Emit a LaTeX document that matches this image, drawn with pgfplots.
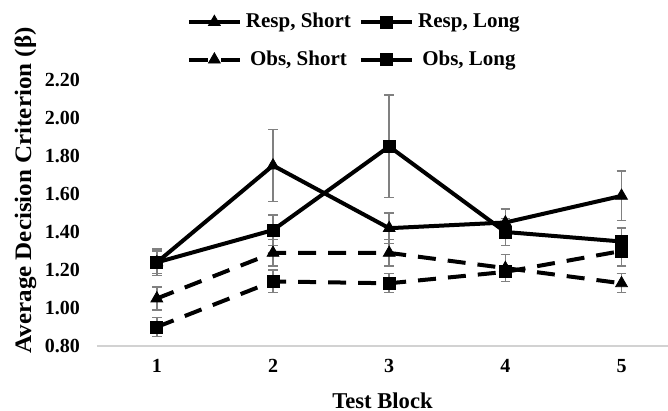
\documentclass[border=0pt]{standalone}
\usepackage{fontspec}
\setmainfont{Liberation Serif}
\newfontfamily\ylabfont[FakeStretch=1.06]{Liberation Serif}
\usepackage{pgfplots}
\pgfplotsset{compat=1.18}
\begin{document}
\begin{tikzpicture}
  \begin{axis}[
      scale only axis, width=285.5pt, height=133pt,
      xmin=0.485, xmax=5.4, ymin=0.8, ymax=2.2,
      xtick={1,2,3,4,5},
      ytick={0.8,1.0,1.2,1.4,1.6,1.8,2.0,2.2},
      axis lines*=left,
      y axis line style={draw=none},
      x axis line style={draw=gray!35, line width=0.8pt},
      tick style={draw=none},
      /pgf/number format/assume math mode=true,
      tick label style={font=\fontsize{10}{12}\selectfont\bfseries},
      yticklabel style={xshift=-5pt,
        /pgf/number format/.cd, fixed, fixed zerofill, precision=2},
      xticklabel style={yshift=-3pt},
      xlabel={Test Block},
      xlabel style={font=\fontsize{11.3}{13}\selectfont\bfseries,
                    at={(axis description cs:0.5,-0.205)}, anchor=center},
      ylabel={Average Decision Criterion (β)},
      ylabel style={font=\fontsize{11.8}{13}\selectfont\ylabfont\bfseries,
                    at={(axis description cs:-0.094,0.585)}, anchor=south},
      legend columns=2,
      legend style={draw=none, font=\fontsize{10.5}{12}\selectfont\bfseries,
                    at={(axis description cs:0.146,1.012)},
                    anchor=south west, row sep=6pt,
                    /tikz/every even column/.append style={column sep=2pt}},
      legend image code/.code={\draw[mark repeat=2, mark phase=2]
        plot coordinates {(0cm,0cm) (0.45cm,0cm) (0.9cm,0cm)};},
      error bars/y dir=both, error bars/y explicit,
      error bars/error bar style={gray, line width=0.7pt, solid},
      error bars/error mark options={rotate=90, gray, mark size=2.4pt, line width=0.7pt},
    ]
    % Resp, Short
    \addplot[black, line width=2pt, mark=triangle*, mark size=3.4pt,
             mark options={solid, line width=0.4pt}] coordinates {
      (1,1.24) +- (0,0.07)
      (2,1.75) +- (0,0.19)
      (3,1.42) +- (0,0.08)
      (4,1.45) +- (0,0.07)
      (5,1.59) +- (0,0.13)
    };
    \addlegendentry{Resp, Short}
    % Resp, Long
    \addplot[black, line width=2pt, mark=square*, mark size=3pt,
             mark options={solid, line width=0.4pt}] coordinates {
      (1,1.24) +- (0,0.06)
      (2,1.41) +- (0,0.08)
      (3,1.85) +- (0,0.27)
      (4,1.40) +- (0,0.07)
      (5,1.35) +- (0,0.07)
    };
    \addlegendentry{Resp, Long}
    % Obs, Short
    \addplot[black, line width=2pt, dash pattern=on 9pt off 6pt,
             mark=triangle*, mark size=3.4pt,
             mark options={solid, line width=0.4pt},
             legend image code/.code={\draw[mark repeat=2, mark phase=2,
               dash pattern=on 0.33cm off 0.24cm]
               plot coordinates {(0cm,0cm) (0.45cm,0cm) (0.9cm,0cm)};}] coordinates {
      (1,1.05) +- (0,0.06)
      (2,1.29) +- (0,0.07)
      (3,1.29) +- (0,0.07)
      (4,1.21) +- (0,0.07)
      (5,1.13) +- (0,0.05)
    };
    \addlegendentry{Obs, Short}
    % Obs, Long
    \addplot[black, line width=2pt, dash pattern=on 9pt off 6pt,
             mark=square*, mark size=3pt,
             mark options={solid, line width=0.4pt},
             legend image code/.code={\draw[mark repeat=2, mark phase=2,
               dash pattern=on 0.33cm off 0.24cm]
               plot coordinates {(0cm,0cm) (0.45cm,0cm) (0.9cm,0cm)};}] coordinates {
      (1,0.90) +- (0,0.05)
      (2,1.14) +- (0,0.06)
      (3,1.13) +- (0,0.05)
      (4,1.19) +- (0,0.03)
      (5,1.30) +- (0,0.08)
    };
    \addlegendentry{Obs, Long}
  \end{axis}
  \pgfresetboundingbox
  \path[use as bounding box]
    ([xshift=-48.5pt,yshift=-32.5pt]current axis.south west)
    rectangle ([yshift=40pt]current axis.north east);
\end{tikzpicture}
\end{document}
